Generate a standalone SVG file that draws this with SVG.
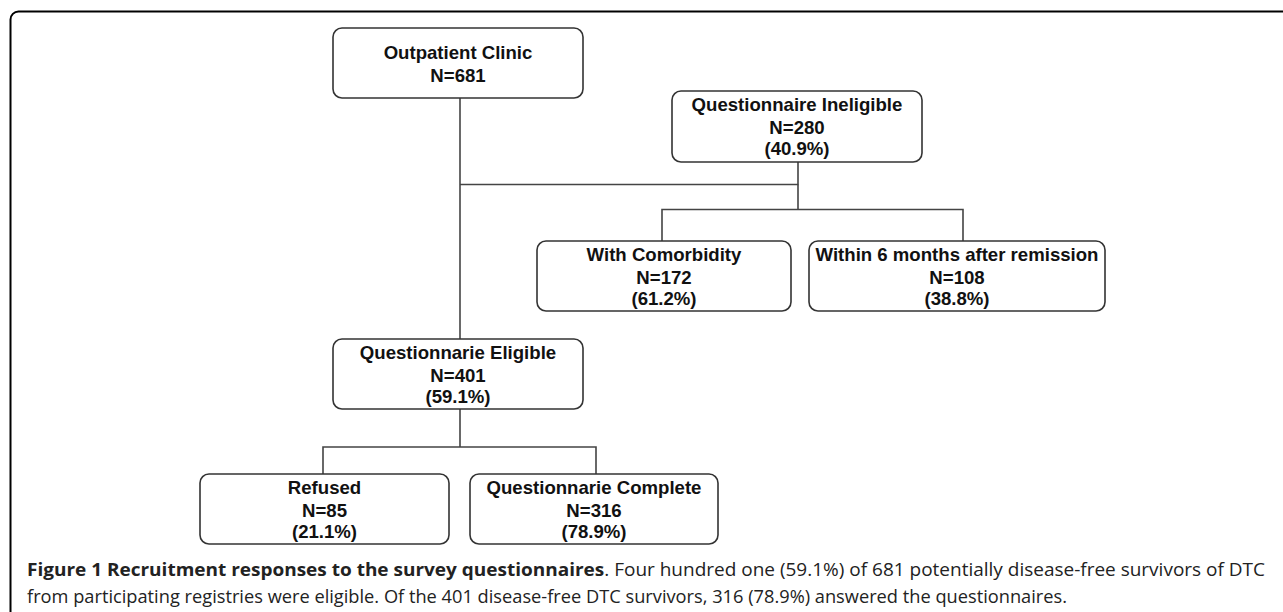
<svg xmlns="http://www.w3.org/2000/svg" width="1283" height="612" viewBox="0 0 1283 612">
<style>
.box{fill:#fff;stroke:#333;stroke-width:1.6}
.lbl{font-family:"Liberation Sans",Arial,sans-serif;font-weight:bold;font-size:18.6px;fill:#111;text-anchor:middle}
.con{fill:none;stroke:#444;stroke-width:1.6}
.cap{font-family:"Open Sans","Noto Sans",sans-serif;font-size:18.5px;fill:#222}
</style>
<rect x="0" y="0" width="1283" height="612" fill="#fff"/>
<rect x="10.5" y="11.5" width="1320" height="700" rx="8" fill="none" stroke="#000" stroke-width="2"/>
<g id="connectors">
<path class="con" d="M460,98 V339"/>
<path class="con" d="M460,184.5 H798 V162"/>
<path class="con" d="M798,184.5 V209.5 M662,241 V209.5 H963 V241"/>
<path class="con" d="M460,409 V447 M323,474 V447 H596 V474"/>
</g>
<g id="outpatient">
<rect class="box" x="333" y="28" width="250" height="70" rx="9"/>
<text class="lbl" x="458" y="59">Outpatient Clinic</text>
<text class="lbl" x="458" y="81.7">N=681</text>
</g>
<g id="ineligible">
<rect class="box" x="672" y="91" width="250" height="71" rx="9"/>
<text class="lbl" x="797" y="111">Questionnaire Ineligible</text>
<text class="lbl" x="797" y="133.5">N=280</text>
<text class="lbl" x="797" y="155">(40.9%)</text>
</g>
<g id="comorbidity">
<rect class="box" x="537" y="241" width="254" height="70" rx="9"/>
<text class="lbl" x="664" y="261">With Comorbidity</text>
<text class="lbl" x="664" y="283.5">N=172</text>
<text class="lbl" x="664" y="305">(61.2%)</text>
</g>
<g id="within6">
<rect class="box" x="809" y="241" width="296" height="70" rx="9"/>
<text class="lbl" x="957" y="261">Within 6 months after remission</text>
<text class="lbl" x="957" y="283.5">N=108</text>
<text class="lbl" x="957" y="305">(38.8%)</text>
</g>
<g id="eligible">
<rect class="box" x="333" y="339" width="250" height="70" rx="9"/>
<text class="lbl" x="458" y="359">Questionnarie Eligible</text>
<text class="lbl" x="458" y="381.5">N=401</text>
<text class="lbl" x="458" y="403">(59.1%)</text>
</g>
<g id="refused">
<rect class="box" x="200" y="474" width="249" height="70" rx="9"/>
<text class="lbl" x="324.5" y="494">Refused</text>
<text class="lbl" x="324.5" y="516.5">N=85</text>
<text class="lbl" x="324.5" y="538">(21.1%)</text>
</g>
<g id="complete">
<rect class="box" x="470" y="474" width="248" height="70" rx="9"/>
<text class="lbl" x="594" y="494">Questionnarie Complete</text>
<text class="lbl" x="594" y="516.5">N=316</text>
<text class="lbl" x="594" y="538">(78.9%)</text>
</g>
<g id="caption">
<text class="cap" x="27" y="576" textLength="1238" lengthAdjust="spacingAndGlyphs"><tspan font-weight="bold">Figure 1 Recruitment responses to the survey questionnaires</tspan>. Four hundred one (59.1%) of 681 potentially disease-free survivors of DTC</text>
<text class="cap" x="27" y="603" textLength="1040" lengthAdjust="spacingAndGlyphs">from participating registries were eligible. Of the 401 disease-free DTC survivors, 316 (78.9%) answered the questionnaires.</text>
</g>
</svg>
